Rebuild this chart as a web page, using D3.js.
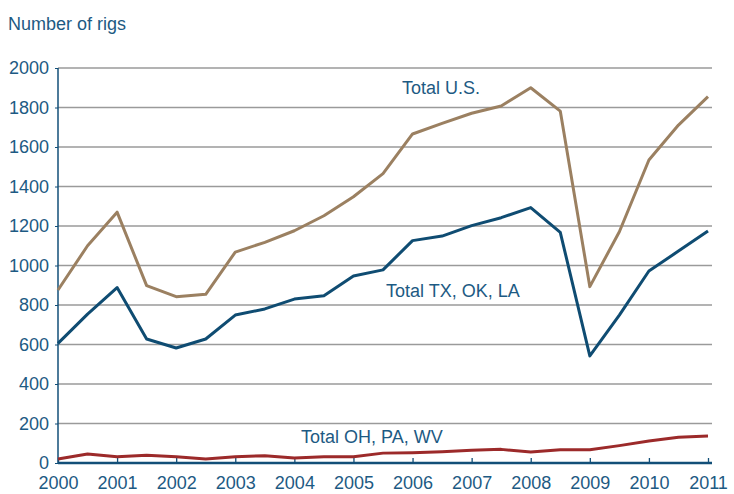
<!DOCTYPE html>
<html><head><meta charset="utf-8">
<script src="https://cdn.jsdelivr.net/npm/d3@7"></script>
<style>body{margin:0;background:#fff}svg{display:block}text{font-family:"Liberation Sans",Arial,sans-serif}</style>
</head><body>
<script>
const years = [2000,2000.5,2001,2001.5,2002,2002.5,2003,2003.5,2004,2004.5,2005,2005.5,2006,2006.5,2007,2007.5,2008,2008.5,2009,2009.5,2010,2010.5,2011];
const totalUS = [876,1100,1270,898,842,854,1068,1117,1176,1252,1348,1465,1666,1720,1771,1808,1900,1782,893,1171,1534,1711,1855];
const totalTXOKLA = [606,754,888,628,582,628,749,780,830,847,947,978,1126,1149,1202,1242,1293,1168,542,749,972,1073,1175];
const totalOHPAWV = [20,46,32,39,32,20,32,37,25,32,32,50,52,57,64,69,56,67,67,88,111,130,137];
const yTicks = [0,200,400,600,800,1000,1200,1400,1600,1800,2000];
const xTicks = [2000,2001,2002,2003,2004,2005,2006,2007,2008,2009,2010,2011];

const W=734,H=494;
const svg=d3.select("body").append("svg").attr("width",W).attr("height",H);
const x=d3.scaleLinear().domain([2000,2011]).range([58,708]);
const y=d3.scaleLinear().domain([0,2000]).range([463,68]);
const txt="#1d5a83", axisC="#124f78";

// grid
svg.append("g").selectAll("line").data(yTicks.filter(d=>d>0)).join("line")
  .attr("x1",58).attr("x2",712).attr("y1",d=>y(d)).attr("y2",d=>y(d))
  .attr("stroke","#9a9a9a").attr("stroke-width",1.3);

// y axis
const ya=svg.append("g").attr("transform","translate(58,0)")
  .call(d3.axisLeft(y).tickValues(yTicks).tickSize(3).tickPadding(6).tickFormat(d3.format("d")));
ya.select(".domain").attr("stroke",axisC).attr("stroke-width",1.5).attr("d","M0,68V463");
ya.selectAll(".tick line").attr("stroke",axisC);
ya.selectAll("text").attr("fill",txt).style("font-size","18px").style("font-family","'Liberation Sans',Arial,sans-serif");

// x axis
const xa=svg.append("g").attr("transform","translate(0,463)")
  .call(d3.axisBottom(x).tickValues(xTicks).tickSize(-5).tickPadding(13).tickFormat(d3.format("d")));
xa.select(".domain").attr("stroke",axisC).attr("stroke-width",2.5).attr("d","M58,0H712");
xa.selectAll(".tick line").attr("stroke",axisC).attr("stroke-width",1.3);
xa.selectAll("text").attr("fill",txt).style("font-size","18px").style("font-family","'Liberation Sans',Arial,sans-serif");

const line=d3.line().x((d,i)=>x(years[i])).y(d=>y(d));
[[totalOHPAWV,"#9c2a2a"],[totalTXOKLA,"#0f4c72"],[totalUS,"#9b8061"]].forEach(([s,c])=>{
  svg.append("path").attr("d",line(s)).attr("fill","none").attr("stroke",c).attr("stroke-width",3).attr("stroke-linejoin","round");
});

svg.append("text").attr("x",8).attr("y",30).attr("fill",txt).style("font-size","18px").text("Number of rigs");
svg.append("text").attr("x",402).attr("y",94).attr("fill",txt).style("font-size","18px").text("Total U.S.");
svg.append("text").attr("x",386).attr("y",297).attr("fill",txt).style("font-size","18px").text("Total TX, OK, LA");
svg.append("text").attr("x",301).attr("y",443).attr("fill",txt).style("font-size","18px").text("Total OH, PA, WV");
</script>
</body></html>
